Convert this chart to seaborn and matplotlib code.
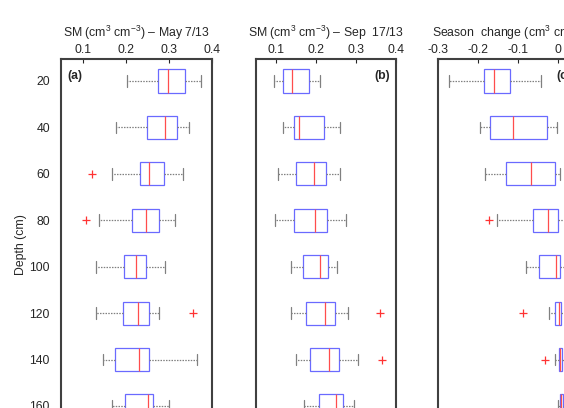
import numpy as np
import pandas as pd
import matplotlib.pyplot as plt
import seaborn as sns

# depth of each probe (cm)
depths = [20, 40, 60, 80, 100, 120, 140, 160]

# May 7/13 soil moisture: whisker low, q1, median, q3, whisker high
may_lo = [0.203, 0.178, 0.169, 0.139, 0.130, 0.130, 0.147, 0.168]
may_q1 = [0.274, 0.250, 0.233, 0.214, 0.195, 0.193, 0.176, 0.198]
may_med = [0.298, 0.290, 0.253, 0.247, 0.223, 0.229, 0.231, 0.252]
may_q3 = [0.338, 0.319, 0.288, 0.276, 0.248, 0.253, 0.254, 0.263]
may_hi = [0.375, 0.347, 0.333, 0.314, 0.290, 0.277, 0.365, 0.300]
may_out_depth = [60, 80, 120]
may_out_val = [0.122, 0.107, 0.355]

# Sep 17/13 soil moisture
sep_lo = [0.094, 0.118, 0.105, 0.098, 0.138, 0.138, 0.150, 0.171]
sep_q1 = [0.117, 0.145, 0.150, 0.145, 0.168, 0.174, 0.186, 0.208]
sep_med = [0.140, 0.158, 0.195, 0.197, 0.209, 0.222, 0.233, 0.249]
sep_q3 = [0.183, 0.221, 0.225, 0.227, 0.230, 0.248, 0.257, 0.268]
sep_hi = [0.211, 0.259, 0.259, 0.275, 0.252, 0.279, 0.305, 0.296]
sep_out_depth = [120, 140]
sep_out_val = [0.359, 0.365]

# season change
chg_lo = [-0.273, -0.194, -0.183, -0.153, -0.080, -0.023, -0.007, -0.001]
chg_q1 = [-0.184, -0.169, -0.129, -0.062, -0.048, -0.007, 0.003, 0.004]
chg_med = [-0.159, -0.112, -0.068, -0.025, -0.006, 0.003, 0.006, 0.007]
chg_q3 = [-0.120, -0.027, -0.008, 0.001, 0.006, 0.008, 0.010, 0.012]
chg_hi = [-0.042, -0.002, 0.005, 0.025, 0.030, 0.020, 0.020, 0.020]
chg_out_depth = [80, 120, 140]
chg_out_val = [-0.172, -0.088, -0.033]


def summary_frame(lo, q1, med, q3, hi):
    # five values per depth -> quartiles land exactly on q1/med/q3
    rows = []
    for i, d in enumerate(depths):
        for v in (lo[i], q1[i], med[i], q3[i], hi[i]):
            rows.append({'depth': d, 'value': v})
    return pd.DataFrame(rows)


sns.set_style('white')
plt.rcParams['font.family'] = ['Liberation Sans', 'DejaVu Sans']
plt.rcParams['mathtext.fontset'] = 'custom'
plt.rcParams['mathtext.rm'] = 'Liberation Sans'
plt.rcParams['mathtext.it'] = 'Liberation Sans:italic'
plt.rcParams['mathtext.default'] = 'regular'

fig = plt.figure(figsize=(5.64, 4.08), dpi=100)
bottom, height = -0.052, 0.9076
ax_a = fig.add_axes([61 / 564, bottom, 151 / 564, height])
ax_b = fig.add_axes([256 / 564, bottom, 140 / 564, height])
ax_c = fig.add_axes([438 / 564, bottom, 140 / 564, height])

panels = [
    (ax_a, summary_frame(may_lo, may_q1, may_med, may_q3, may_hi), may_out_depth, may_out_val,
     'SM (cm$^3$ cm$^{-3}$) – May 7/13', (0.05, 0.4), [0.1, 0.2, 0.3, 0.4], '(a)', 'left'),
    (ax_b, summary_frame(sep_lo, sep_q1, sep_med, sep_q3, sep_hi), sep_out_depth, sep_out_val,
     'SM (cm$^3$ cm$^{-3}$) – Sep  17/13', (0.05, 0.4), [0.1, 0.2, 0.3, 0.4], '(b)', 'right'),
    (ax_c, summary_frame(chg_lo, chg_q1, chg_med, chg_q3, chg_hi), chg_out_depth, chg_out_val,
     'Season  change (cm$^3$ cm$^{-3}$)', (-0.3, 0.05), [-0.3, -0.2, -0.1, 0], '(c)', 'right'),
]

fs = 8.8
for ax, df, od, ov, title, xlim, xticks, tag, side in panels:
    sns.boxplot(data=df, x='value', y='depth', orient='h', native_scale=True,
                width=0.5, whis=(0, 100), showfliers=False, linewidth=0.9, ax=ax,
                boxprops=dict(facecolor='white', edgecolor='#6a6aff'),
                medianprops=dict(color='#ff4d4d'),
                whiskerprops=dict(color='#808080', linestyle=(0, (1.2, 1.0))),
                capprops=dict(color='#808080'))
    sns.scatterplot(x=ov, y=od, marker='+', color='#ff3333', s=35, linewidth=0.9, ax=ax)
    ax.set_xlim(*xlim)
    ax.set_ylim(170, 10.5)
    ax.set_xticks(xticks)
    ax.set_xticklabels([('%g' % t) for t in xticks])
    ax.xaxis.tick_top()
    ax.xaxis.set_label_position('top')
    ax.set_xlabel(title, fontsize=fs, labelpad=5)
    ax.tick_params(axis='x', direction='in', length=3, pad=2, labelsize=fs, top=True, bottom=False)
    ax.set_yticks(depths)
    ax.tick_params(axis='y', direction='in', length=0, pad=8, labelsize=fs)
    ax.set_ylabel('')
    for s in ax.spines.values():
        s.set_color('#404040')
        s.set_linewidth(1.5)
    if side == 'left':
        ax.text(0.045, 0.955, tag, transform=ax.transAxes, fontsize=fs, fontweight='bold', va='center', ha='left')
    else:
        ax.text(0.955, 0.955, tag, transform=ax.transAxes, fontsize=fs, fontweight='bold', va='center', ha='right')

ax_a.set_yticklabels([str(d) for d in depths])
ax_a.set_ylabel('Depth (cm)', fontsize=fs, labelpad=2)
ax_b.set_yticklabels([])
ax_c.set_yticklabels([])

plt.savefig('out.png', dpi=100)
